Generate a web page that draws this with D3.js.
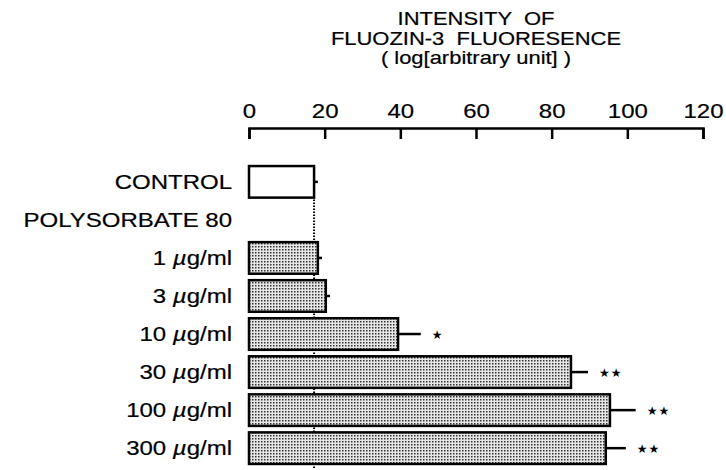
<!DOCTYPE html>
<html>
<head>
<meta charset="utf-8">
<script src="https://cdn.jsdelivr.net/npm/d3@7"></script>
<style>
  body { margin: 0; background: #fff; }
  text { font-family: "Liberation Sans", Arial, sans-serif; fill: #000; stroke: #000; stroke-width: 0.2px; }
</style>
</head>
<body>
<svg id="fig" width="726" height="470"></svg>
<script>
const categories = ['CONTROL', 'POLYSORBATE 80', '1', '3', '10', '30', '100', '300'];
const barCats = ['CONTROL', '1', '3', '10', '30', '100', '300'];
const values = [17.2, 18.2, 20.3, 39.4, 85.1, 95.4, 94.3];
const errors = [1.0, 1.1, 1.1, 6.0, 4.5, 6.8, 5.3];
const marks = ['', '', '', '*', '**', '**', '**'];
const tickValues = [0, 20, 40, 60, 80, 100, 120];
const titleLines = ['INTENSITY  OF', 'FLUOZIN-3  FLUORESENCE', '( log[arbitrary unit] )'];

const svg = d3.select('#fig');
const stretch = 'scale(1.2,1)'; // the original lettering is wide

const x = d3.scaleLinear().domain([0, 120]).range([249, 703]);
const y = d3.scaleBand().domain(categories).range([163, 467]).paddingInner(0.17).paddingOuter(0.08);

// stipple fill
const defs = svg.append('defs');
const pat = defs.append('pattern')
    .attr('id', 'dots')
    .attr('width', 3).attr('height', 3)
    .attr('patternUnits', 'userSpaceOnUse');
pat.append('rect').attr('width', 3).attr('height', 3).attr('fill', '#e6e6e6');
pat.append('rect').attr('width', 1.5).attr('height', 1.5).attr('fill', '#333');

// title
titleLines.forEach((t, i) => {
    svg.append('g')
        .attr('transform', `translate(${(x(0) + x(120)) / 2},${25 + i * 19.5})`)
        .append('text')
        .attr('transform', 'scale(1.22,1)')
        .attr('text-anchor', 'middle')
        .style('font-size', '18px')
        .style('white-space', 'pre')
        .text(t);
});

// axis on top, ticks pointing down
const axis = svg.append('g')
    .attr('transform', 'translate(0,128)')
    .call(d3.axisTop(x).tickValues(tickValues).tickSize(-11).tickPadding(10));
axis.select('.domain').attr('stroke', '#000').attr('stroke-width', 2.5);
axis.selectAll('.tick line').attr('stroke', '#000').attr('stroke-width', 2.5);
axis.selectAll('.tick text')
    .attr('transform', stretch)
    .style('font-size', '20px')
    .style('font-family', '"Liberation Sans", Arial, sans-serif')
    .attr('fill', '#000');

// category labels
categories.forEach(c => {
    const t = svg.append('g')
        .attr('transform', `translate(232,${y(c) + y.bandwidth() / 2 + 7})`)
        .append('text')
        .attr('transform', stretch)
        .attr('text-anchor', 'end')
        .style('font-size', '20px');
    if (c === 'CONTROL' || c === 'POLYSORBATE 80') {
        t.text(c);
    } else {
        t.append('tspan').text(c + ' ');
        t.append('tspan').style('font-style', 'italic').text('\u00b5');
        t.append('tspan').text('g/ml');
    }
});

// dotted control reference line
svg.append('line')
    .attr('x1', x(values[0])).attr('x2', x(values[0]))
    .attr('y1', y('CONTROL') + y.bandwidth() + 2).attr('y2', 468)
    .attr('stroke', '#000').attr('stroke-width', 2)
    .attr('stroke-dasharray', '1.5,1.5');

// error bars (one sided)
svg.selectAll('line.err').data(barCats)
    .enter().append('line')
    .attr('class', 'err')
    .attr('x1', (d, i) => x(values[i]))
    .attr('x2', (d, i) => x(values[i] + errors[i]))
    .attr('y1', d => y(d) + y.bandwidth() / 2)
    .attr('y2', d => y(d) + y.bandwidth() / 2)
    .attr('stroke', '#000').attr('stroke-width', 2.5);

// bars
svg.selectAll('rect.bar').data(barCats)
    .enter().append('rect')
    .attr('class', 'bar')
    .attr('x', x(0))
    .attr('y', d => y(d))
    .attr('width', (d, i) => x(values[i]) - x(0))
    .attr('height', y.bandwidth())
    .attr('fill', (d, i) => i === 0 ? '#fff' : 'url(#dots)')
    .attr('stroke', '#000').attr('stroke-width', 2.5);

// significance stars
svg.selectAll('text.sig').data(barCats)
    .enter().append('text')
    .attr('class', 'sig')
    .attr('x', (d, i) => x(values[i] + errors[i]) + 11)
    .attr('y', d => y(d) + y.bandwidth() / 2 + 5)
    .style('font-family', '"DejaVu Sans", sans-serif')
    .style('font-size', '12px')
    .style('stroke-width', '0')
    .style('letter-spacing', '1px')
    .text((d, i) => marks[i].replace(/\*/g, '\u2605'));
</script>
</body>
</html>
